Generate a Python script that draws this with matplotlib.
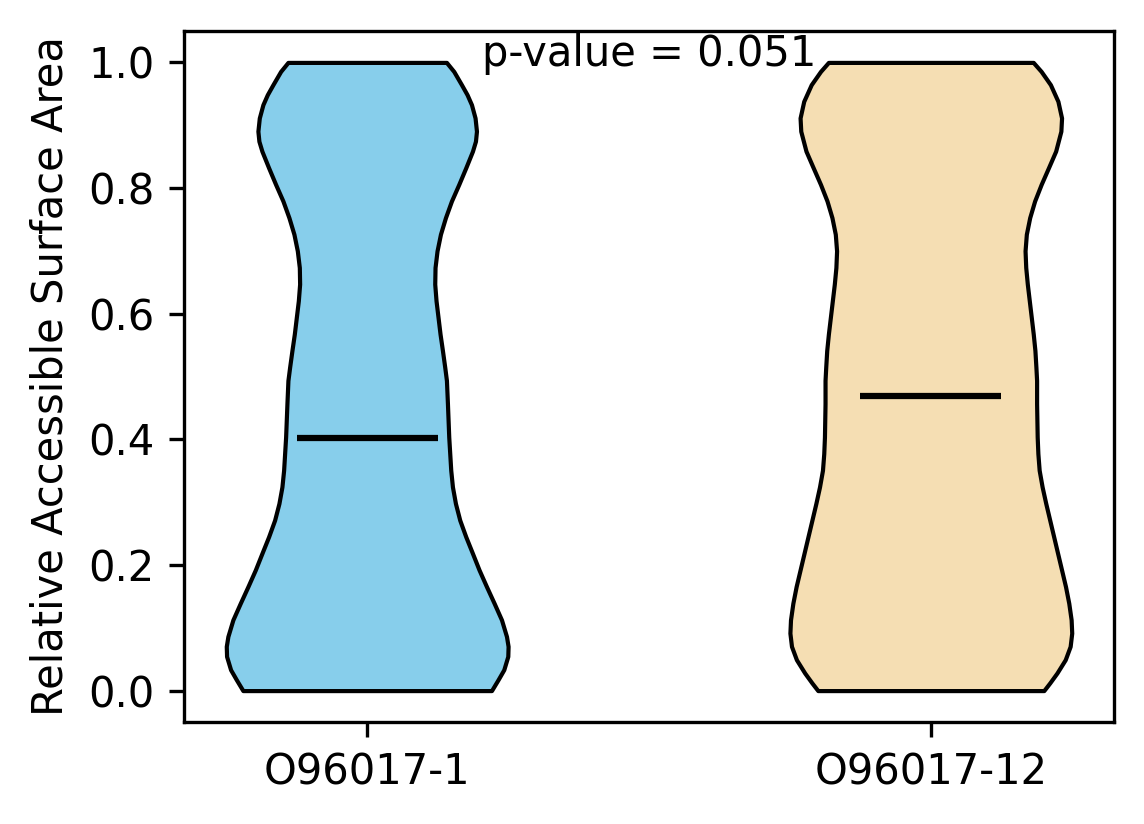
import numpy as np
import matplotlib
matplotlib.use("Agg")
import matplotlib.pyplot as plt

# violin outlines: RSA level -> relative half width
labels = ['O96017-1', 'O96017-12']
colors = ['skyblue', 'wheat']
p_value = 0.051

rsa_1 = [0, 0.0175, 0.0333, 0.0545, 0.0704, 0.0862, 0.1127, 0.1392, 0.1656, 0.1921,
         0.2185, 0.245, 0.2714, 0.2979, 0.3243, 0.3508, 0.4037, 0.4566, 0.4937,
         0.5148, 0.5413, 0.5677, 0.5942, 0.6206, 0.6471, 0.6735, 0.7, 0.7265,
         0.7529, 0.7794, 0.8058, 0.8323, 0.8587, 0.8746, 0.8905, 0.9116, 0.9328,
         0.9487, 0.9646, 0.9857, 1.0]
dens_1 = [124.2, 130.8, 136.5, 140.5, 140.8, 139.2, 134.2, 126.8, 119.2, 111.8,
          105.2, 98.5, 92.5, 88.2, 85.2, 83.5, 81.5, 80.2, 79.2,
          77.5, 75.2, 72.8, 70.8, 68.8, 67.5, 67.8, 69.8, 73.2,
          78.2, 84.2, 91.5, 98.5, 105.2, 108.2, 109.2, 107.8, 104.2,
          99.8, 94.2, 86.5, 79.2]
median_1 = 0.402

rsa_2 = [0, 0.0122, 0.028, 0.0492, 0.0704, 0.0915, 0.1127, 0.1392, 0.1656, 0.1921,
         0.2185, 0.245, 0.2714, 0.2979, 0.3243, 0.3508, 0.3772, 0.4037, 0.4566,
         0.4937, 0.5148, 0.5413, 0.5677, 0.5942, 0.6206, 0.6471, 0.6735, 0.7,
         0.7265, 0.7529, 0.7794, 0.8058, 0.8323, 0.8587, 0.8905, 0.9116, 0.9381,
         0.9646, 0.9857, 1.0]
dens_2 = [114.5, 120.5, 127.8, 136.2, 141.2, 142.8, 142.2, 139.8, 136.5, 132.5,
          128.5, 124.5, 120.5, 116.5, 112.8, 109.8, 108.5, 107.8, 107.2,
          107.2, 106.5, 105.5, 103.8, 101.8, 99.8, 97.8, 96.2, 95.5,
          96.8, 100.2, 105.2, 111.8, 119.2, 126.5, 131.8, 132.5, 128.8,
          121.2, 111.8, 103.8]
median_2 = 0.469

vpstats = []
for coords, vals, med in [(rsa_1, dens_1, median_1), (rsa_2, dens_2, median_2)]:
    vpstats.append({'coords': np.array(coords), 'vals': np.array(vals),
                    'mean': med, 'median': med,
                    'min': min(coords), 'max': max(coords)})

fig = plt.figure(figsize=(1144 / 300, 824 / 300), dpi=300)
ax = fig.add_axes([184 / 1144, 1 - 722 / 824, 930 / 1144, 691 / 824])

parts = ax.violin(vpstats, positions=[1, 2], widths=0.5,
                  showmeans=False, showextrema=False, showmedians=True)
for body, c in zip(parts['bodies'], colors):
    body.set_facecolor(c)
    body.set_edgecolor('black')
    body.set_linewidth(1)
    body.set_alpha(1)
parts['cmedians'].set_color('black')
parts['cmedians'].set_linewidth(1.5)

ax.set_xticks([1, 2])
ax.set_xticklabels(labels)
ax.set_ylabel('Relative Accessible Surface Area')
ax.text(0.5, 0.95, f'p-value = {p_value}', transform=ax.transAxes, ha='center')

fig.savefig('out.png', dpi=300)
